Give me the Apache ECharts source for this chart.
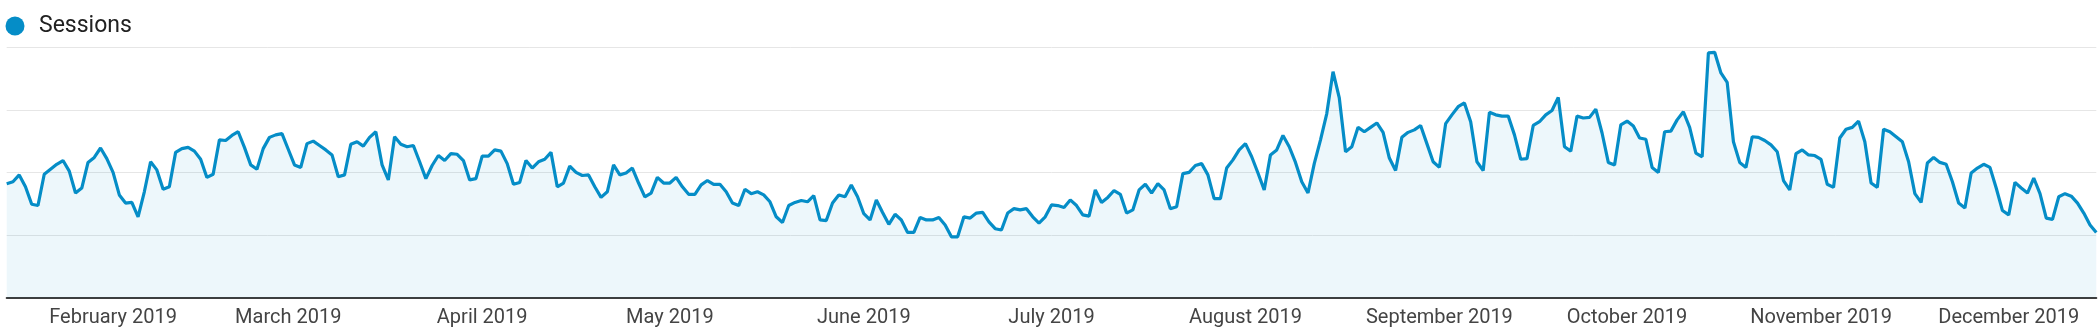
<!DOCTYPE html>
<html>
<head>
<meta charset="utf-8">
<title>Sessions 2019</title>
<script src="https://cdn.jsdelivr.net/npm/echarts@6/dist/echarts.min.js"></script>
<style>
  html, body { margin: 0; padding: 0; background: #ffffff; }
  #chart { width: 2099px; height: 331px; }
</style>
</head>
<body>
<div id="chart"></div>
<script>
// Daily sessions, 15 Jan 2019 – 15 Dec 2019, one array per month
const sessionsJan = [182, 185, 196, 177, 149, 147, 197, 205, 213, 219, 202, 167, 175, 216, 224, 239, 222];
const sessionsFeb = [200, 164, 151, 152, 129, 169, 217, 204, 173, 177, 232, 238, 240, 234, 221, 192, 197, 252, 251, 259, 265, 240, 212, 205, 238, 256, 260, 262];
const sessionsMar = [237, 212, 208, 246, 250, 243, 236, 228, 193, 196, 245, 249, 242, 256, 265, 212, 188, 257, 245, 241, 243, 217, 190, 211, 227, 219, 230, 229, 219, 188, 190];
const sessionsApr = [226, 226, 236, 234, 214, 181, 184, 219, 207, 217, 221, 232, 177, 183, 210, 200, 195, 196, 177, 160, 169, 212, 196, 199, 207, 183, 161, 167, 192, 183];
const sessionsMay = [183, 192, 177, 165, 165, 180, 187, 181, 181, 169, 151, 147, 173, 166, 169, 164, 153, 129, 120, 147, 152, 155, 153, 163, 124, 123, 151, 164, 161, 180, 161];
const sessionsJun = [134, 124, 156, 136, 117, 133, 124, 104, 104, 128, 124, 124, 128, 116, 97, 97, 129, 127, 135, 136, 121, 110, 108, 135, 142, 140, 142, 129, 119, 129];
const sessionsJul = [148, 147, 144, 156, 147, 132, 130, 172, 152, 160, 171, 165, 135, 140, 172, 181, 167, 182, 172, 142, 145, 198, 200, 211, 214, 196, 158, 158, 207, 220, 236];
const sessionsAug = [246, 225, 199, 172, 228, 236, 259, 241, 216, 185, 167, 214, 252, 294, 361, 319, 233, 241, 272, 265, 272, 279, 264, 223, 203, 256, 264, 268, 275, 246, 217];
const sessionsSep = [208, 278, 292, 305, 311, 281, 217, 203, 296, 292, 290, 290, 260, 221, 222, 275, 281, 292, 299, 320, 241, 234, 290, 287, 288, 301, 263, 216, 212, 276];
const sessionsOct = [282, 274, 255, 253, 208, 200, 265, 266, 284, 297, 272, 231, 225, 391, 392, 359, 344, 249, 216, 208, 257, 256, 251, 244, 233, 187, 172, 230, 236, 228, 227];
const sessionsNov = [221, 181, 176, 255, 269, 272, 282, 249, 183, 176, 269, 265, 257, 249, 217, 166, 152, 215, 224, 216, 213, 185, 151, 143, 199, 207, 213, 208, 175, 139];
const sessionsDec = [132, 184, 175, 167, 191, 166, 127, 125, 161, 166, 162, 151, 135, 116, 104];

// Month tick labels
const monthLabels = [
  'January 2019', 'February 2019', 'March 2019', 'April 2019', 'May 2019', 'June 2019',
  'July 2019', 'August 2019', 'September 2019', 'October 2019', 'November 2019', 'December 2019'
];

const monthSeries = [sessionsJan, sessionsFeb, sessionsMar, sessionsApr, sessionsMay, sessionsJun,
                     sessionsJul, sessionsAug, sessionsSep, sessionsOct, sessionsNov, sessionsDec];
const firstDayOfRange = [15, 1, 1, 1, 1, 1, 1, 1, 1, 1, 1, 1];

// Flatten into a daily category axis
const dates = [];
const sessions = [];
monthSeries.forEach((values, m) => {
  values.forEach((v, k) => {
    const day = firstDayOfRange[m] + k;
    dates.push('2019-' + String(m + 1).padStart(2, '0') + '-' + String(day).padStart(2, '0'));
    sessions.push(v);
  });
});

const LINE_BLUE = '#058dc7';

const chart = echarts.init(document.getElementById('chart'), null, { renderer: 'canvas' });
chart.setOption({
  animation: false,
  grid: { left: 6.7, right: 2.7, top: 47.3, bottom: 33.5 },
  legend: {
    data: ['Sessions'],
    left: 5.5,
    top: 14.5,
    padding: 0,
    icon: 'circle',
    itemWidth: 19,
    itemHeight: 19,
    textStyle: {
      fontFamily: 'Roboto',
      fontSize: 23,
      color: '#212121',
      padding: [0, 0, 0, 9.5]
    }
  },
  xAxis: {
    type: 'category',
    data: dates,
    boundaryGap: false,
    axisLine: { lineStyle: { color: '#3d3d3d', width: 2 } },
    axisTick: { show: false },
    splitLine: { show: false },
    axisLabel: {
      interval: (index, value) => value.endsWith('-01'),
      formatter: (value) => monthLabels[Number(value.slice(5, 7)) - 1],
      fontFamily: 'Roboto',
      fontSize: 20,
      color: '#444444',
      margin: 10
    }
  },
  yAxis: {
    type: 'value',
    min: 0,
    max: 400,
    interval: 100,
    axisLabel: { show: false },
    axisLine: { show: false },
    axisTick: { show: false },
    splitLine: { lineStyle: { color: '#e6e6e6', width: 1 } }
  },
  series: [{
    name: 'Sessions',
    type: 'line',
    data: sessions,
    symbol: 'none',
    showSymbol: false,
    lineStyle: { color: LINE_BLUE, width: 3.2 },
    itemStyle: { color: LINE_BLUE },
    areaStyle: { color: 'rgba(5, 141, 199, 0.1)' }
  }]
});
</script>
</body>
</html>
